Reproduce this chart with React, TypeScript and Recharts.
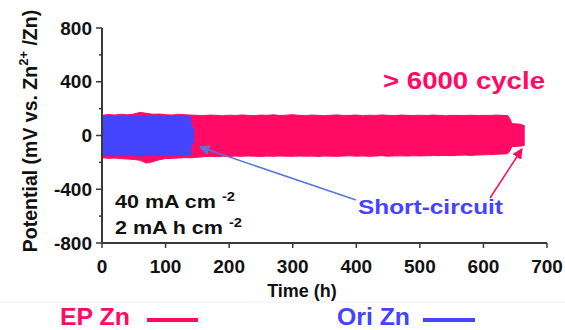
import { Area, ComposedChart, XAxis, YAxis } from "recharts";

// time (h) and voltage envelope (mV)
const epTime = [
  0, 10, 20, 30, 40, 50, 60, 70, 80, 90, 100, 110, 120, 130, 140, 150, 160,
  170, 180, 190, 200, 210, 220, 230, 240, 250, 260, 270, 280, 290, 300, 310,
  320, 330, 340, 350, 360, 370, 380, 390, 400, 410, 420, 430, 440, 450, 460,
  470, 480, 490, 500, 510, 520, 530, 540, 550, 560, 570, 580, 590, 600, 610,
  620, 630, 638, 641, 645, 655, 660, 665,
];
const epHigh = [
  150, 156, 152, 158, 154, 160, 172, 165, 158, 160, 155, 152, 158, 155, 152,
  150, 148, 152, 150, 147, 151, 149, 153, 150, 148, 152, 150, 154, 149, 151,
  155, 150, 148, 152, 150, 147, 151, 153, 149, 150, 152, 148, 151, 149, 153,
  150, 148, 152, 150, 149, 151, 148, 152, 150, 147, 150, 149, 148, 151, 148,
  150, 149, 152, 150, 148, 130, 88, 86, 82, 70,
];
const epLow = [
  -165, -170, -168, -172, -175, -178, -185, -205, -195, -180, -172, -170,
  -168, -165, -165, -162, -158, -155, -157, -154, -156, -153, -155, -152,
  -154, -156, -153, -155, -152, -154, -155, -152, -154, -153, -156, -152,
  -154, -155, -153, -151, -154, -152, -155, -153, -150, -154, -152, -151,
  -153, -150, -152, -151, -149, -150, -148, -150, -147, -146, -148, -145,
  -144, -142, -140, -138, -135, -120, -82, -80, -78, -72,
];

const oriTime = [0, 10, 20, 30, 40, 50, 60, 70, 80, 90, 100, 110, 120, 130, 139, 141, 145];
const oriHigh = [140, 142, 140, 143, 141, 144, 142, 140, 143, 141, 142, 140, 143, 141, 140, 60, 55];
const oriLow = [-145, -148, -146, -150, -147, -149, -152, -150, -148, -151, -147, -149, -146, -148, -145, -60, -55];

const timeTicks = [0, 100, 200, 300, 400, 500, 600, 700];
const potentialTicks = [-800, -600, -400, -200, 0, 200, 400, 600, 800];
const potentialLabels = [-800, -400, 0, 400, 800];

const EP = "#ff0a64";
const ORI = "#4444ff";
const AXIS = "#3a3a3a";
const FONT = "'Liberation Sans', Arial, sans-serif";

const allTimes = Array.from(new Set([...epTime, ...oriTime])).sort((a, b) => a - b);
const data = allTimes.map((t) => {
  const i = epTime.indexOf(t);
  const j = oriTime.indexOf(t);
  return {
    time: t,
    ep: i >= 0 ? [epLow[i], epHigh[i]] : undefined,
    ori: j >= 0 ? [oriLow[j], oriHigh[j]] : undefined,
  };
});

function PotentialTick({ x, y, payload }: any) {
  const major = potentialLabels.includes(payload.value);
  return (
    <g>
      <line x1={x - (major ? 6 : 3)} x2={x} y1={y} y2={y} stroke={AXIS} strokeWidth={1.5} />
      {major && (
        <text x={x - 10} y={y} dy={6.5} textAnchor="end" fontSize={19} fontWeight="bold" fill="#111" fontFamily={FONT}>
          {payload.value}
        </text>
      )}
    </g>
  );
}

function TimeTick({ x, y, payload }: any) {
  return (
    <g>
      <line x1={x} x2={x} y1={y} y2={y + 5} stroke={AXIS} strokeWidth={1.5} />
      <text x={x} y={y + 30} textAnchor="middle" fontSize={19} fontWeight="bold" fill="#111" fontFamily={FONT}>
        {payload.value}
      </text>
    </g>
  );
}

export default function App() {
  return (
    <div style={{ position: "absolute", left: 0, top: 0, width: 565, height: 330, background: "#fff" }}>
      <ComposedChart
        width={565}
        height={330}
        data={data}
        margin={{ top: 28, right: 18, bottom: 57, left: 0 }}
      >
        <XAxis
          dataKey="time"
          type="number"
          domain={[0, 700]}
          ticks={timeTicks}
          interval={0}
          tickSize={0}
          tickMargin={0}
          tickLine={false}
          tick={<TimeTick />}
          height={30}
          stroke={AXIS}
          strokeWidth={2}
          allowDataOverflow
        />
        <XAxis xAxisId="top" orientation="top" type="number" domain={[0, 700]} height={0} tick={false} tickLine={false} stroke={AXIS} strokeWidth={2} />
        <YAxis
          type="number"
          domain={[-800, 800]}
          ticks={potentialTicks}
          interval={0}
          tickSize={0}
          tickMargin={0}
          tickLine={false}
          tick={<PotentialTick />}
          width={102}
          stroke={AXIS}
          strokeWidth={2}
          allowDataOverflow
        />
        <YAxis yAxisId="right" orientation="right" type="number" domain={[-800, 800]} width={0} tick={false} tickLine={false} stroke={AXIS} strokeWidth={2.5} />
        <Area
          type="linear"
          dataKey="ep"
          stroke={EP}
          strokeWidth={1}
          fill={EP}
          fillOpacity={1}
          connectNulls
          isAnimationActive={false}
        />
        <Area
          type="linear"
          dataKey="ori"
          stroke={ORI}
          strokeWidth={1}
          fill={ORI}
          fillOpacity={1}
          connectNulls
          isAnimationActive={false}
        />
      </ComposedChart>

      <svg width={565} height={330} style={{ position: "absolute", left: 0, top: 0, pointerEvents: "none" }} fontFamily={FONT} fontWeight="bold">
        <defs>
          <marker id="headBlue" viewBox="0 0 10 10" refX="9" refY="5" markerWidth="7" markerHeight="7" orient="auto">
            <path d="M0,0 L10,5 L0,10 z" fill="#5577dd" />
          </marker>
          <marker id="headPink" viewBox="0 0 10 10" refX="9" refY="5" markerWidth="7" markerHeight="7" orient="auto">
            <path d="M0,0 L10,5 L0,10 z" fill={EP} />
          </marker>
        </defs>

        <text transform="translate(37,131) rotate(-90)" textAnchor="middle" fontSize={19.5} fill="#111">
          Potential (mV vs. Zn
          <tspan dy={-9} fontSize={13}>2+</tspan>
          <tspan dy={9}> /Zn)</tspan>
        </text>
        <text x={302} y={297} textAnchor="middle" fontSize={18} fill="#111">Time (h)</text>

        <text x={383} y={89} fontSize={23} fill={EP} textLength={162} lengthAdjust="spacingAndGlyphs">&gt; 6000 cycle</text>

        <text x={115} y={208} fontSize={19} fill="#111" textLength={120} lengthAdjust="spacingAndGlyphs">
          40 mA cm <tspan dy={-7} fontSize={13}>-2</tspan>
        </text>
        <text x={115} y={234} fontSize={19} fill="#111" textLength={127} lengthAdjust="spacingAndGlyphs">
          2 mA h cm <tspan dy={-7} fontSize={13}>-2</tspan>
        </text>

        <text x={358} y={214} fontSize={21} fill={ORI} textLength={145} lengthAdjust="spacingAndGlyphs">Short-circuit</text>

        <line x1={356} y1={200} x2={200} y2={147} stroke="#5577dd" strokeWidth={1.5} markerEnd="url(#headBlue)" />
        <line x1={490} y1={198} x2={522} y2={149} stroke={EP} strokeWidth={1.5} markerEnd="url(#headPink)" />

        <line x1={0} y1={302} x2={565} y2={302} stroke="#eeeeee" strokeWidth={1} />

        <text x={60} y={325} fontSize={24} fill={EP} textLength={70} lengthAdjust="spacingAndGlyphs">EP Zn</text>
        <line x1={147} y1={320} x2={198} y2={320} stroke={EP} strokeWidth={4} />
        <text x={337} y={325} fontSize={24} fill={ORI} textLength={73} lengthAdjust="spacingAndGlyphs">Ori Zn</text>
        <line x1={423} y1={320} x2={475} y2={320} stroke={ORI} strokeWidth={4} />
      </svg>
    </div>
  );
}
